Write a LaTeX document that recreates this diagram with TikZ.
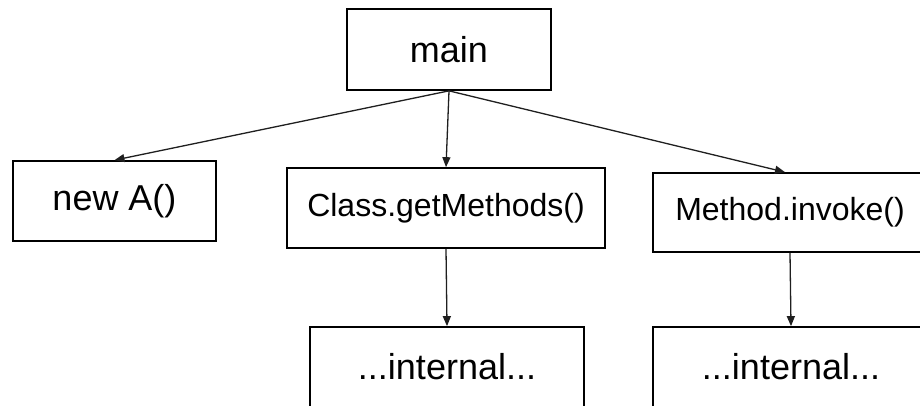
\documentclass[tikz,border=0pt]{standalone}
\usepackage{fontspec}
\setmainfont{Liberation Sans}
\usetikzlibrary{arrows.meta}
\begin{document}
\begin{tikzpicture}[x=1pt,y=-1pt,
  blk/.style={draw=black,line width=1.7pt,rectangle,inner sep=0pt,
    minimum width=#1,font=\fontsize{36}{40}\selectfont},
  blk/.default=200pt,
  small/.style={font=\fontsize{32}{36}\selectfont},
  link/.style={draw=black!88,line width=1.3pt,-{Triangle[length=10pt,width=8pt]}}]
\useasboundingbox (0,0) rectangle (920,405);
\clip (0,0) rectangle (920,405);
% call tree boxes
\node[blk=204pt,minimum height=81pt] (main) at (449,49.5) {main};
\node[blk=203pt,minimum height=80pt] (newa) at (114.5,201) {new A()};
\node[blk=318pt,minimum height=80pt,small] (gm) at (446,208) {Class.getMethods()};
\node[blk=274pt,minimum height=79pt,small] (inv) at (790,212.5) {Method.invoke()};
\node[blk=274pt,minimum height=80pt] (int1) at (447,367) {...internal...};
\node[blk=276pt,minimum height=80pt] (int2) at (791,367) {...internal...};
% calls
\draw[link] (main.south) -- (newa.north);
\draw[link] (main.south) -- (gm.north);
\draw[link] (main.south) -- ([xshift=-5pt]inv.north);
\draw[link] (gm.south) -- (int1.north);
\draw[link] (inv.south) -- (int2.north);
\end{tikzpicture}
\end{document}
